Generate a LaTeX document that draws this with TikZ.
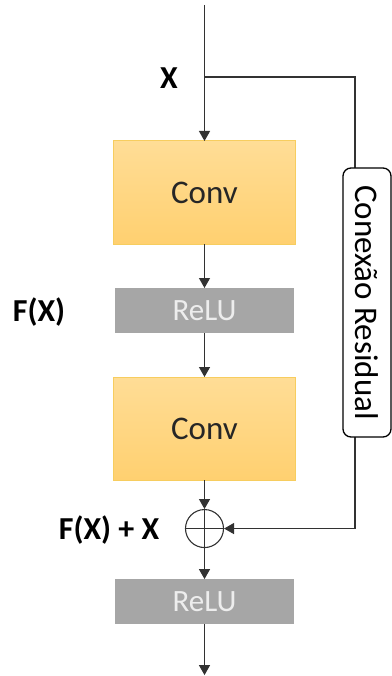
\documentclass[tikz,border=0pt]{standalone}
\usepackage{fontspec}
\setmainfont{Carlito}
\usepackage{tikz}
\usetikzlibrary{arrows.meta, positioning}
\definecolor{convtop}{RGB}{255,221,150}
\definecolor{convbot}{RGB}{255,208,112}
\definecolor{convedge}{RGB}{247,205,95}
\definecolor{relugray}{RGB}{166,166,166}
\definecolor{linegray}{RGB}{50,50,50}

\begin{document}
\begin{tikzpicture}[
    x=1pt, y=1pt,
    conv/.style={rectangle, draw=convedge, line width=1pt, top color=convtop, bottom color=convbot,
                 minimum width=182pt, minimum height=103pt, inner sep=0pt, outer sep=0pt,
                 font=\fontsize{33}{33}\selectfont, text=black!85},
    relu/.style={rectangle, fill=relugray, minimum width=179pt, minimum height=45pt,
                 inner sep=0pt, outer sep=0pt, font=\fontsize{31}{31}\selectfont, text=white!93!black},
    sum/.style={circle, draw=linegray, line width=1.1pt, minimum size=38pt, inner sep=0pt,
                path picture={\draw[linegray, line width=1.1pt]
                    (path picture bounding box.north) -- (path picture bounding box.south)
                    (path picture bounding box.west) -- (path picture bounding box.east);}},
    lbl/.style={font=\fontsize{32}{32}\selectfont\bfseries, text=black},
    arr/.style={-{Triangle[width=11pt,length=10pt]}, line width=1.3pt, linegray},
]
    \useasboundingbox (0,0) rectangle (391,-676);

    \node[conv] (conv1) at (204.5,-192.5) {Conv};
    \node[relu, below=44pt of conv1] (relu1) {ReLU};
    \node[conv, below=44pt of relu1] (conv2) {Conv};
    \node[sum, below=29pt of conv2] (add) {};
    \node[relu, below=31pt of add] (relu2) {ReLU};

    \coordinate (in) at (204.5,-5);
    \coordinate (split) at (204.5,-77);
    \coordinate (turn) at (355,-77);
    \coordinate[below=51pt of relu2] (out);

    \draw[arr] (in) -- (conv1);
    \draw[arr] (conv1) -- (relu1);
    \draw[arr] (relu1) -- (conv2);
    \draw[arr] (conv2) -- (add);
    \draw[arr] (add) -- (relu2);
    \draw[arr] (relu2) -- (out);
    \draw[arr] (split) -- (turn) |- (add);

    \node[rectangle, rounded corners=8pt, draw=black, line width=1.3pt, fill=white, rotate=-90,
          minimum width=269pt, minimum height=48pt, inner sep=0pt,
          font=\fontsize{33}{33}\selectfont] (resid) at (367,-302.5) {Conexão Residual};

    \node[lbl] (xlab) at (169,-78) {X};
    \node[lbl] (fx) at (39,-312) {F(X)};
    \node[lbl] (fxx) at (109,-530) {F(X) + X};
\end{tikzpicture}
\end{document}
